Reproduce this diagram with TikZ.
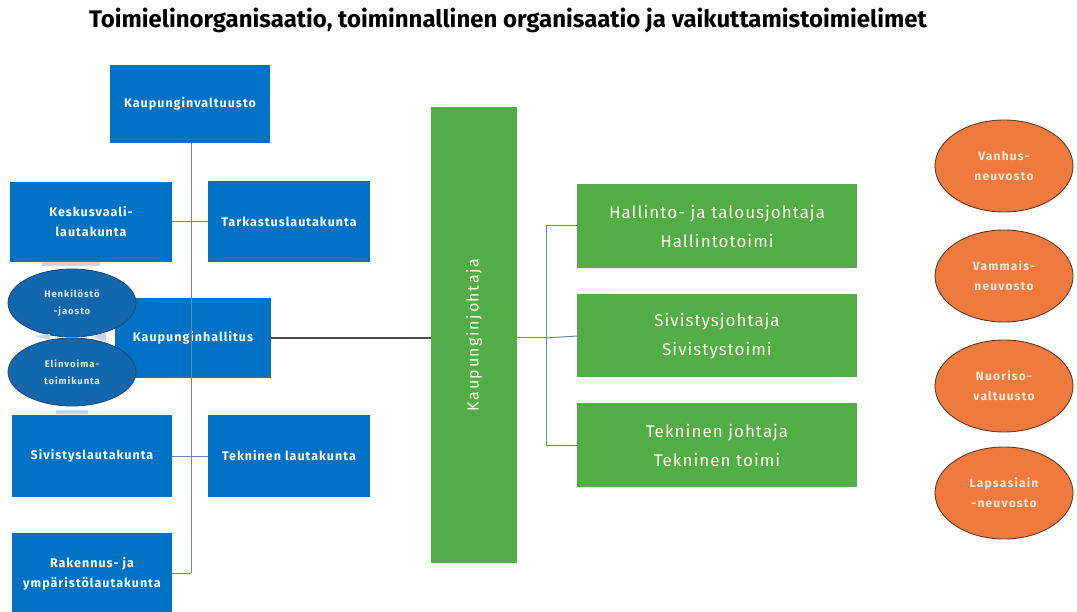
\documentclass[tikz,border=0pt]{standalone}
\usepackage{fontspec}
\setmainfont{Fira Sans}
\usetikzlibrary{shapes.geometric}
\definecolor{cblue}{RGB}{0,114,198}
\definecolor{eblue}{RGB}{18,102,172}
\definecolor{eborder}{RGB}{30,70,120}
\definecolor{cgreen}{RGB}{82,172,72}
\definecolor{corange}{RGB}{240,122,62}
\definecolor{oborder}{RGB}{90,60,40}
\definecolor{lnblue}{RGB}{110,130,190}
\definecolor{artgray}{RGB}{205,212,225}
\tikzset{
  x=1pt, y=-1pt,
  bluebox/.style={fill=cblue, draw=none, text=white, font=\bfseries\fontsize{12.5}{20}\selectfont\addfontfeature{LetterSpace=8}, align=center, inner sep=0pt},
  blueell/.style={ellipse, fill=eblue, draw=eborder, line width=0.8pt, text=white!85!cblue, font=\bfseries\fontsize{9.5}{17}\selectfont\addfontfeature{LetterSpace=10}, align=center, inner sep=0pt, minimum width=128pt, minimum height=68pt},
  greenbox/.style={fill=cgreen, draw=none, text=white!90!yellow, font=\fontsize{17}{29}\selectfont\addfontfeature{LetterSpace=6}, align=center, inner sep=0pt},
  orangeell/.style={ellipse, fill=corange, draw=oborder, line width=0.9pt, text=white!85!orange, font=\bfseries\fontsize{12}{20}\selectfont\addfontfeature{LetterSpace=10}, align=center, inner sep=0pt, minimum width=138pt, minimum height=92pt},
  conn/.style={draw=lnblue, line width=1pt},
  darkconn/.style={draw=black!70, line width=1.6pt},
  art/.style={fill=artgray, draw=none}
}
\begin{document}
\begin{tikzpicture}
\useasboundingbox (0,0) rectangle (1077,612);
\fill[white] (0,0) rectangle (1077,612);
% title
\node[font=\bfseries\fontsize{24}{28}\selectfont, anchor=center] (title) at (508,20) {Toimielinorganisaatio, toiminnallinen organisaatio ja vaikuttamistoimielimet};

% blue boxes
\node[bluebox, minimum width=160pt, minimum height=78pt] (valt) at (190,104) {Kaupunginvaltuusto};
\node[bluebox, minimum width=162pt, minimum height=80pt] (kesk) at (91,222) {Keskusvaali-\\lautakunta};
\node[bluebox, minimum width=162pt, minimum height=81pt] (tark) at (289,222) {Tarkastuslautakunta};
\node[bluebox, minimum width=156pt, minimum height=80pt] (kh) at (193,338) {Kaupunginhallitus};
\node[bluebox, minimum width=160pt, minimum height=82pt] (siv) at (92,456) {Sivistyslautakunta};
\node[bluebox, minimum width=162pt, minimum height=81pt] (tek) at (289,456) {Tekninen lautakunta};
\node[bluebox, minimum width=160pt, minimum height=82pt] (rak) at (92,574) {Rakennus- ja\\ympäristölautakunta};

% ellipses
\node[blueell] (henk) at (72,303) {Henkilöstö\\-jaosto};
\node[blueell] (elin) at (72,372) {Elinvoima-\\toimikunta};
% light artifacts
\fill[art] (42,262) rectangle (100,266);
\fill[art] (56,410) rectangle (88,414);
\fill[art] (35,336) -- (50,334) -- (50,340) -- cycle;
\fill[art] (93,337) -- (106,332) -- (106,342) -- cycle;

% connectors (left tree)
\coordinate (vtop) at (191,143);
\coordinate (vbot) at (191,573);
\draw[conn] (valt.south -| vtop) -- (vbot);
\draw[conn] (kesk.east) -- (tark.west);
\draw[conn] (siv.east) -- (tek.west);
\draw[conn] (rak.east |- vbot) -- (vbot);

% green
\node[greenbox, minimum width=86pt, minimum height=456pt] (kj) at (474,335) {};
\node[rotate=90, text=white!90!yellow, font=\fontsize{16}{18}\selectfont\addfontfeature{LetterSpace=10}] (kjt) at (kj.center) {Kaupunginjohtaja};
\draw[darkconn] (kh.east) -- (kj.west |- kh.east);

\node[greenbox, minimum width=280pt, minimum height=84pt] (hal) at (717,226) {Hallinto- ja talousjohtaja\\Hallintotoimi};
\node[greenbox, minimum width=280pt, minimum height=83pt] (sivj) at (717,336) {Sivistysjohtaja\\Sivistystoimi};
\node[greenbox, minimum width=280pt, minimum height=84pt] (tekj) at (717,445) {Tekninen johtaja\\Tekninen toimi};

\coordinate (br) at (546,338);
\draw[conn] (kj.east |- br) -- (br);
\draw[conn] (hal.west) -| (br |- hal.west) -- (br |- tekj.west) -- (tekj.west);
\draw[conn] (br) -- (sivj.west);

% orange
\node[orangeell] (vanh) at (1004,166) {Vanhus-\\neuvosto};
\node[orangeell] (vamm) at (1004,276) {Vammais-\\neuvosto};
\node[orangeell] (nuor) at (1004,386) {Nuoriso-\\valtuusto};
\node[orangeell] (laps) at (1004,493) {Lapsasiain\\-neuvosto};
\end{tikzpicture}
\end{document}
